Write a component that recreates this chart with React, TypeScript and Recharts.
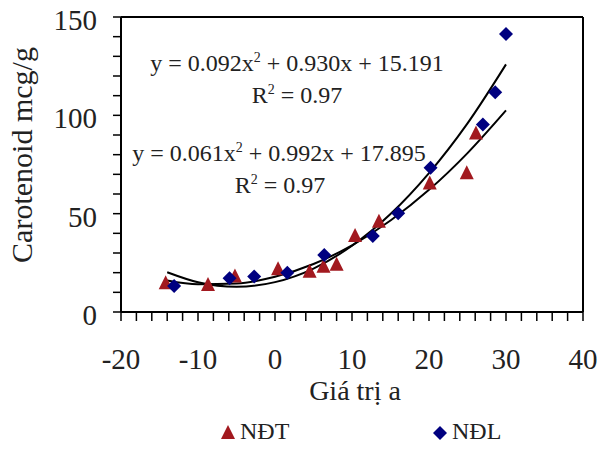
import React from 'react';
import { ComposedChart, Scatter, Line, XAxis, YAxis, ReferenceLine, Customized } from 'recharts';

// NĐT (red triangles)
const ndtX = [-14.2, -8.7, -5.2, 0.4, 4.5, 6.3, 8.0, 10.4, 13.5, 20.1, 24.9, 26.1];
const ndtY = [14.6, 13.7, 18.0, 21.7, 20.5, 23.0, 24.0, 38.6, 45.9, 65.4, 70.5, 90.8];
// NĐL (blue diamonds)
const ndlX = [-13.1, -5.9, -2.7, 1.6, 6.4, 12.7, 16.0, 20.2, 27.0, 28.6, 30.0];
const ndlY = [13.2, 17.1, 18.0, 20.0, 29.0, 38.6, 50.2, 73.4, 95.4, 111.7, 141.3];
// trend curves
const trendX = [-14, -10, -5, 0, 5, 10, 15, 20, 25, 30];
const ndlTrend = [20.2, 15.1, 12.8, 15.2, 22.1, 33.7, 49.8, 70.6, 95.9, 125.9];
const ndtTrend = [16.0, 14.1, 14.5, 17.9, 24.4, 33.9, 46.5, 62.1, 80.8, 102.5];

const xTicks = [-20, -18, -16, -14, -12, -10, -8, -6, -4, -2, 0, 2, 4, 6, 8, 10, 12, 14, 16, 18, 20, 22, 24, 26, 28, 30, 32, 34, 36, 38, 40];
const yTicks = [0, 10, 20, 30, 40, 50, 60, 70, 80, 90, 100, 110, 120, 130, 140, 150];

const RED = '#A2191F';
const BLUE = '#000080';
const FONT = '"Liberation Serif", "Times New Roman", serif';

const ndt = ndtX.map((x, i) => ({ x, y: ndtY[i] }));
const ndl = ndlX.map((x, i) => ({ x, y: ndlY[i] }));
const ndlFit = trendX.map((x, i) => ({ x, y: ndlTrend[i] }));
const ndtFit = trendX.map((x, i) => ({ x, y: ndtTrend[i] }));

const Triangle = (props: any) => {
  const { cx, cy } = props;
  return <polygon points={`${cx},${cy - 8} ${cx - 7},${cy + 6} ${cx + 7},${cy + 6}`} fill={RED} />;
};

const Diamond = (props: any) => {
  const { cx, cy } = props;
  return <polygon points={`${cx},${cy - 7} ${cx + 7},${cy} ${cx},${cy + 7} ${cx - 7},${cy}`} fill={BLUE} />;
};

const XTick = (props: any) => {
  const { x, y, payload } = props;
  if (payload.value % 10 !== 0) return null;
  return (
    <text x={x} y={y} dy={48} textAnchor="middle" fontSize={29} fontFamily={FONT} fill="#222">
      {payload.value}
    </text>
  );
};

const YTick = (props: any) => {
  const { x, y, payload } = props;
  if (payload.value % 50 !== 0) return null;
  return (
    <text x={x} y={y} dy={13} textAnchor="end" fontSize={29} fontFamily={FONT} fill="#222">
      {payload.value}
    </text>
  );
};

const Annotations = () => (
  <g fontFamily={FONT} fill="#222">
    <text x={32} y={155} transform="rotate(-90, 32, 155)" textAnchor="middle" fontSize={30}>
      Carotenoid mcg/g
    </text>
    <text x={355} y={400} textAnchor="middle" fontSize={28}>Giá trị a</text>

    <text x={297} y={71} textAnchor="middle" fontSize={24}>
      y = 0.092x<tspan dy={-9} fontSize={14}>2</tspan><tspan dy={9}> + 0.930x + 15.191</tspan>
    </text>
    <text x={297} y={103} textAnchor="middle" fontSize={24}>
      R<tspan dy={-9} fontSize={14}>2</tspan><tspan dy={9}> = 0.97</tspan>
    </text>
    <text x={279} y={161} textAnchor="middle" fontSize={24}>
      y = 0.061x<tspan dy={-9} fontSize={14}>2</tspan><tspan dy={9}> + 0.992x + 17.895</tspan>
    </text>
    <text x={280} y={193} textAnchor="middle" fontSize={24}>
      R<tspan dy={-9} fontSize={14}>2</tspan><tspan dy={9}> = 0.97</tspan>
    </text>

    {/* legend */}
    <polygon points="228,425 221,439 235,439" fill={RED} />
    <text x={240} y={439} fontSize={24}>NĐT</text>
    <polygon points="440,426 447,433 440,440 433,433" fill={BLUE} />
    <text x={452} y={439} fontSize={24}>NĐL</text>
  </g>
);

export default function App() {
  return (
    <div style={{ position: 'absolute', left: 0, top: 0, background: '#fff' }}>
      <ComposedChart width={602} height={450} margin={{ top: 17, right: 19, left: 0, bottom: 78 }}>
        <XAxis
          type="number"
          dataKey="x"
          domain={[-20, 40]}
          ticks={xTicks}
          interval={0}
          allowDataOverflow
          axisLine={{ stroke: '#000', strokeWidth: 2 }}
          tickLine={{ stroke: '#000', strokeWidth: 1.5 }}
          tickSize={9}
          tickMargin={0}
          height={60}
          tick={<XTick />}
        />
        <YAxis
          type="number"
          dataKey="y"
          domain={[0, 150]}
          ticks={yTicks}
          interval={0}
          allowDataOverflow
          axisLine={{ stroke: '#000', strokeWidth: 2 }}
          tickLine={{ stroke: '#000', strokeWidth: 1.5 }}
          tickSize={8}
          tickMargin={16}
          width={121}
          tick={<YTick />}
        />
        <ReferenceLine y={150} stroke="#000" strokeWidth={2} />
        <ReferenceLine x={40} stroke="#000" strokeWidth={2} />
        <Scatter name="NĐT" data={ndt} shape={<Triangle />} isAnimationActive={false} />
        <Scatter name="NĐL" data={ndl} shape={<Diamond />} isAnimationActive={false} />
        <Line data={ndlFit} dataKey="y" type="monotone" stroke="#000" strokeWidth={2} dot={false} isAnimationActive={false} />
        <Line data={ndtFit} dataKey="y" type="monotone" stroke="#000" strokeWidth={2} dot={false} isAnimationActive={false} />
        <Customized component={<Annotations />} />
      </ComposedChart>
    </div>
  );
}
